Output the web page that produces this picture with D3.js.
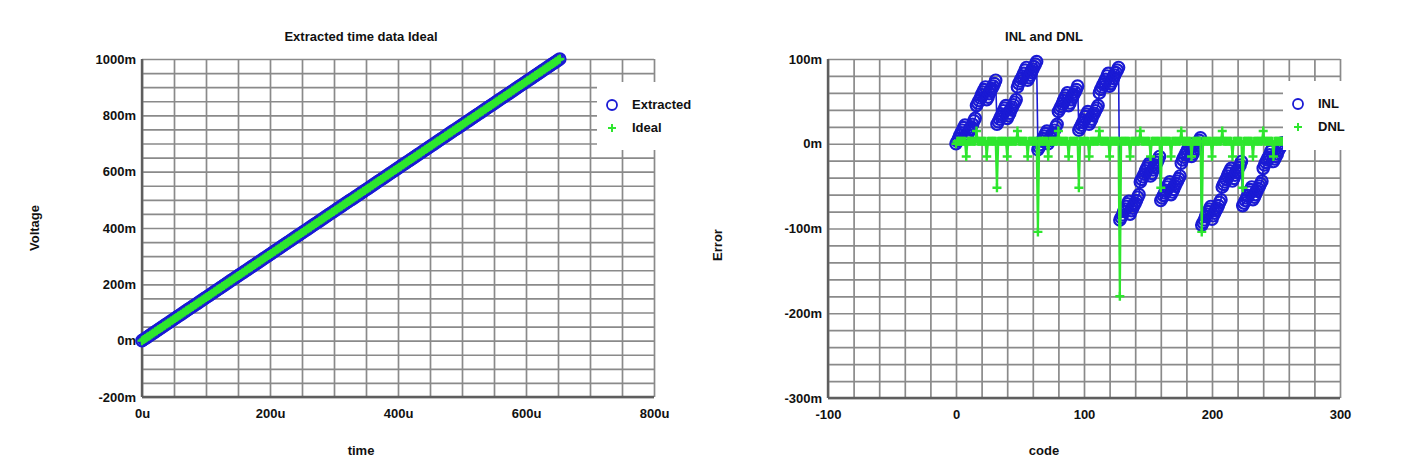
<!DOCTYPE html>
<html>
<head>
<meta charset="utf-8">
<script src="https://d3js.org/d3.v7.min.js"></script>
<style>
  body { margin: 0; background: #fff; }
  svg { display: block; }
  text { font-family: "Liberation Sans", Arial, sans-serif; font-weight: bold; font-size: 13px; fill: #111; }
  .grid line { stroke: #8a8a8a; stroke-width: 1.7; }
  .grid path { display: none; }
</style>
</head>
<body>
<svg id="chart" width="1407" height="476"></svg>
<script>
// INL per code (m LSB)
var inl = [
  0, 3, 6, 10, 13, 16, 19, 22, 7, 11, 14, 17, 20, 23, 27, 30,
  45, 48, 51, 54, 58, 61, 64, 67, 52, 55, 59, 62, 65, 68, 71, 75,
  23, 26, 29, 32, 35, 39, 42, 45, 30, 33, 36, 40, 43, 46, 49, 52,
  67, 71, 74, 77, 80, 83, 87, 90, 75, 78, 81, 84, 88, 91, 94, 97,
  -7, -4, -1, 3, 6, 9, 12, 15, 0, 4, 7, 10, 13, 16, 20, 23,
  38, 41, 44, 47, 51, 54, 57, 60, 45, 48, 52, 55, 58, 61, 64, 68,
  16, 19, 22, 25, 28, 32, 35, 38, 23, 26, 29, 33, 36, 39, 42, 45,
  60, 64, 67, 70, 73, 76, 80, 83, 68, 71, 74, 77, 81, 84, 87, 90,
  -90, -87, -84, -80, -77, -74, -71, -68, -83, -79, -76, -73, -70, -67, -63, -60,
  -45, -42, -39, -36, -32, -29, -26, -23, -38, -35, -31, -28, -25, -22, -19, -15,
  -67, -64, -61, -58, -55, -51, -48, -45, -60, -57, -54, -50, -47, -44, -41, -38,
  -23, -19, -16, -13, -10, -7, -3, 0, -15, -12, -9, -6, -2, 1, 4, 7,
  -96, -93, -90, -86, -83, -80, -77, -74, -89, -85, -82, -79, -76, -73, -69, -66,
  -51, -48, -45, -42, -38, -35, -32, -29, -44, -41, -37, -34, -31, -28, -25, -21,
  -73, -70, -67, -64, -61, -57, -54, -51, -66, -63, -60, -56, -53, -50, -47, -44,
  -29, -25, -22, -19, -16, -13, -9, -6, -21, -18, -15, -12, -8, -5, -2, 1
];

// DNL per code (m LSB)
var dnl = [
  0, 3, 3, 3, 3, 3, 3, 3, -15, 3, 3, 3, 3, 3, 3, 3,
  15, 3, 3, 3, 3, 3, 3, 3, -15, 3, 3, 3, 3, 3, 3, 3,
  -52, 3, 3, 3, 3, 3, 3, 3, -15, 3, 3, 3, 3, 3, 3, 3,
  15, 3, 3, 3, 3, 3, 3, 3, -15, 3, 3, 3, 3, 3, 3, 3,
  -104, 3, 3, 3, 3, 3, 3, 3, -15, 3, 3, 3, 3, 3, 3, 3,
  15, 3, 3, 3, 3, 3, 3, 3, -15, 3, 3, 3, 3, 3, 3, 3,
  -52, 3, 3, 3, 3, 3, 3, 3, -15, 3, 3, 3, 3, 3, 3, 3,
  15, 3, 3, 3, 3, 3, 3, 3, -15, 3, 3, 3, 3, 3, 3, 3,
  -180, 3, 3, 3, 3, 3, 3, 3, -15, 3, 3, 3, 3, 3, 3, 3,
  15, 3, 3, 3, 3, 3, 3, 3, -15, 3, 3, 3, 3, 3, 3, 3,
  -52, 3, 3, 3, 3, 3, 3, 3, -15, 3, 3, 3, 3, 3, 3, 3,
  15, 3, 3, 3, 3, 3, 3, 3, -15, 3, 3, 3, 3, 3, 3, 3,
  -104, 3, 3, 3, 3, 3, 3, 3, -15, 3, 3, 3, 3, 3, 3, 3,
  15, 3, 3, 3, 3, 3, 3, 3, -15, 3, 3, 3, 3, 3, 3, 3,
  -52, 3, 3, 3, 3, 3, 3, 3, -15, 3, 3, 3, 3, 3, 3, 3,
  15, 3, 3, 3, 3, 3, 3, 3, -15, 3, 3, 3, 3, 3, 3, 3
];

var codes = d3.range(inl.length);

// left plot: sample time step (u) and code step (m), read from end point ~(655u, 1000m)
var timeStep = 2.56;
var lsb = 1000 / 255;
var ideal = codes.map(function(c) { return { t: c * timeStep, v: c * lsb }; });
var extracted = codes.map(function(c) { return { t: c * timeStep, v: (c + inl[c] / 1000) * lsb }; });

var timeTicks = [0, 200, 400, 600, 800];
var voltTicks = [-200, 0, 200, 400, 600, 800, 1000];
var codeTicks = [-100, 0, 100, 200, 300];
var errTicks = [-300, -200, -100, 0, 100];

var blue = "#1a1ad4", green = "#2ee62e";

var svg = d3.select("#chart");
svg.append("rect").attr("width", 1407).attr("height", 476).attr("fill", "#fff");

function panel(o) {
  var x = d3.scaleLinear().domain(o.xDom).range([o.left, o.right]);
  var y = d3.scaleLinear().domain(o.yDom).range([o.bottom, o.top]);
  var g = svg.append("g");

  // grid
  g.append("g").attr("class", "grid")
    .attr("transform", "translate(0," + o.bottom + ")")
    .call(d3.axisBottom(x).tickValues(d3.range(o.xDom[0], o.xDom[1] + 0.1, o.xGrid))
      .tickSize(-(o.bottom - o.top)).tickFormat(""));
  g.append("g").attr("class", "grid")
    .attr("transform", "translate(" + o.left + ",0)")
    .call(d3.axisLeft(y).tickValues(d3.range(o.yDom[0], o.yDom[1] + 0.1, o.yGrid))
      .tickSize(-(o.right - o.left)).tickFormat(""));

  // frame
  g.append("line").attr("x1", o.left).attr("x2", o.left).attr("y1", o.top).attr("y2", o.bottom)
    .attr("stroke", "#5e5e5e").attr("stroke-width", 2.4);
  g.append("line").attr("x1", o.left).attr("x2", o.right).attr("y1", o.bottom).attr("y2", o.bottom)
    .attr("stroke", "#5e5e5e").attr("stroke-width", 2.4);

  // tick labels
  var xa = g.append("g").attr("transform", "translate(0," + o.bottom + ")")
    .call(d3.axisBottom(x).tickValues(o.xTicks).tickSize(0).tickPadding(12).tickFormat(o.xFmt));
  xa.select(".domain").remove();
  var ya = g.append("g").attr("transform", "translate(" + o.left + ",0)")
    .call(d3.axisLeft(y).tickValues(o.yTicks).tickSize(0).tickPadding(6).tickFormat(o.yFmt));
  ya.select(".domain").remove();
  g.selectAll(".tick text").attr("fill", "#111").style("font-size", "13px");

  // titles
  g.append("text").attr("x", o.titleX).attr("y", 41).attr("text-anchor", "middle").text(o.title);
  g.append("text").attr("x", o.titleX).attr("y", 455).attr("text-anchor", "middle").text(o.xLabel);
  g.append("text").attr("transform", "translate(" + o.yLabelX + "," + o.yLabelY + ") rotate(-90)")
    .attr("text-anchor", "middle").text(o.yLabel);

  return { g: g, x: x, y: y };
}

function circles(g, pts, x, y, key) {
  g.append("path").datum(pts)
    .attr("fill", "none").attr("stroke", blue).attr("stroke-width", 1.6)
    .attr("d", d3.line().x(function(d) { return x(d[key[0]]); }).y(function(d) { return y(d[key[1]]); }));
  g.selectAll(null).data(pts).enter().append("circle")
    .attr("cx", function(d) { return x(d[key[0]]); })
    .attr("cy", function(d) { return y(d[key[1]]); })
    .attr("r", 5.7).attr("fill", "none").attr("stroke", blue).attr("stroke-width", 2.2);
}

function pluses(g, pts, x, y, key) {
  g.append("path").datum(pts)
    .attr("fill", "none").attr("stroke", green).attr("stroke-width", 2.2)
    .attr("d", d3.line().x(function(d) { return x(d[key[0]]); }).y(function(d) { return y(d[key[1]]); }));
  g.selectAll(null).data(pts).enter().append("path")
    .attr("transform", function(d) { return "translate(" + x(d[key[0]]) + "," + y(d[key[1]]) + ")"; })
    .attr("d", "M-4.5,0H4.5M0,-4.5V4.5").attr("stroke", green).attr("stroke-width", 2.4);
}

function legend(g, bx, by, bw, bh, names) {
  g.append("rect").attr("x", bx).attr("y", by).attr("width", bw).attr("height", bh).attr("fill", "#fff");
  g.append("circle").attr("cx", bx + 15).attr("cy", by + 23).attr("r", 5)
    .attr("fill", "none").attr("stroke", blue).attr("stroke-width", 1.8);
  g.append("text").attr("x", bx + 35).attr("y", by + 27).text(names[0]);
  g.append("path").attr("transform", "translate(" + (bx + 15) + "," + (by + 46) + ")")
    .attr("d", "M-4,0H4M0,-4V4").attr("stroke", green).attr("stroke-width", 2);
  g.append("text").attr("x", bx + 35).attr("y", by + 50).text(names[1]);
}

// left panel
var L = panel({
  left: 142, right: 654, top: 59, bottom: 397,
  xDom: [0, 800], yDom: [-200, 1000], xGrid: 50, yGrid: 50,
  xTicks: timeTicks, yTicks: voltTicks,
  xFmt: function(d) { return d + "u"; }, yFmt: function(d) { return d + "m"; },
  title: "Extracted time data Ideal", titleX: 361, xLabel: "time",
  yLabel: "Voltage", yLabelX: 39, yLabelY: 228
});
circles(L.g, extracted, L.x, L.y, ["t", "v"]);
pluses(L.g, ideal, L.x, L.y, ["t", "v"]);
legend(L.g, 597, 82, 110, 68, ["Extracted", "Ideal"]);

// right panel
var R = panel({
  left: 828, right: 1340, top: 59, bottom: 398,
  xDom: [-100, 300], yDom: [-300, 100], xGrid: 20, yGrid: 20,
  xTicks: codeTicks, yTicks: errTicks,
  xFmt: function(d) { return d; }, yFmt: function(d) { return d + "m"; },
  title: "INL and DNL", titleX: 1044, xLabel: "code",
  yLabel: "Error", yLabelX: 722, yLabelY: 245
});
circles(R.g, codes.map(function(c) { return { c: c, e: inl[c] }; }), R.x, R.y, ["c", "e"]);
pluses(R.g, codes.map(function(c) { return { c: c, e: dnl[c] }; }), R.x, R.y, ["c", "e"]);
legend(R.g, 1283, 81, 66, 69, ["INL", "DNL"]);
</script>
</body>
</html>
